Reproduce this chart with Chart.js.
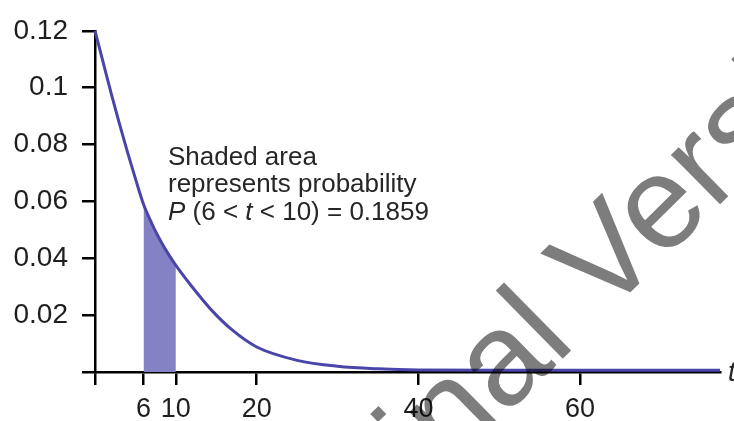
<!DOCTYPE html>
<html><head><meta charset="utf-8">
<script src="https://cdn.jsdelivr.net/npm/chart.js@4/dist/chart.umd.min.js"></script>
<style>html,body{margin:0;padding:0;background:#fff;overflow:hidden}#wrap{width:734px;height:421px;position:relative}</style>
</head><body><div id="wrap"><canvas id="c" width="734" height="421"></canvas></div>
<script>
// ---- data ----
const tValues       = [0, 1, 2, 3, 4, 5, 6, 7, 8, 9, 10, 12, 14.5, 17, 20, 25, 30, 35, 40, 50, 77.3];
const densityValues = [0.1200, 0.1090, 0.0980, 0.0875, 0.0775, 0.0680, 0.0590, 0.0524, 0.0467, 0.0418, 0.0375, 0.0300, 0.0215, 0.0147, 0.0088, 0.0041, 0.0020, 0.0011, 0.0007, 0.0006, 0.0006];
const shadeFrom = 6;
const shadeTo = 10;
const xTickValues = [0, 6, 10, 20, 40, 60];
const xTickLabels = ['', '6', '10', '20', '40', '60'];
const yTickValues = [0, 0.02, 0.04, 0.06, 0.08, 0.1, 0.12];
const yTickLabels = ['', '0.02', '0.04', '0.06', '0.08', '0.1', '0.12'];
const xAxisTitle = 't';
const annotationLines = ['Shaded area', 'represents probability'];
const annotationFormula = [['P', true], [' (6 < ', false], ['t', true], [' < 10) = 0.1859', false]];
const watermarkText = 'Original Version';

const FONT = "'Liberation Sans', Arial, sans-serif";
const curvePoints = tValues.map((t, i) => ({x: t, y: densityValues[i]}));
const shadePoints = curvePoints.filter(p => p.x >= shadeFrom && p.x <= shadeTo);

const overlay = {
  id: 'overlay',
  afterDraw(chart) {
    const ctx = chart.ctx;
    ctx.save();
    ctx.fillStyle = '#262626';
    ctx.textBaseline = 'alphabetic';
    ctx.textAlign = 'left';
    ctx.font = '26px ' + FONT;
    const x0 = 168;
    ctx.fillText(annotationLines[0], x0, 165);
    ctx.fillText(annotationLines[1], x0, 192);
    let x = x0;
    for (const [s, it] of annotationFormula) {
      ctx.font = (it ? 'italic ' : '') + '26px ' + FONT;
      ctx.fillText(s, x, 220);
      x += ctx.measureText(s).width;
    }
    ctx.font = 'italic 27px ' + FONT;
    ctx.fillText(xAxisTitle, 728, 381);
    ctx.restore();

    // watermark
    ctx.save();
    ctx.globalCompositeOperation = 'multiply';
    ctx.fillStyle = 'rgb(125,125,125)';
    ctx.font = '132px ' + FONT;
    ctx.textBaseline = 'alphabetic';
    ctx.textAlign = 'left';
    const pre = ctx.measureText('Original ').width;
    const vHalf = ctx.measureText('V').width / 2;
    ctx.translate(635, 288);
    ctx.rotate(-44.5 * Math.PI / 180);
    ctx.fillText(watermarkText, -(pre + vHalf), 0);
    ctx.restore();
  }
};

new Chart(document.getElementById('c'), {
  type: 'line',
  data: {
    datasets: [
      {
        data: curvePoints, borderColor: '#4a45a8', borderWidth: 3, pointRadius: 0,
        cubicInterpolationMode: 'monotone', fill: false, order: 1, clip: false
      },
      {
        data: shadePoints, borderWidth: 0, borderColor: 'rgba(0,0,0,0)', backgroundColor: '#8581c5',
        pointRadius: 0, cubicInterpolationMode: 'monotone', fill: 'origin', order: 2
      }
    ]
  },
  options: {
    responsive: false, animation: false, devicePixelRatio: 1,
    layout: {padding: {top: 27, right: 14, left: 0, bottom: 0}},
    plugins: {legend: {display: false}, tooltip: {enabled: false}},
    scales: {
      x: {
        type: 'linear', min: 0, max: 77.3,
        afterBuildTicks: s => { s.ticks = xTickValues.map(v => ({value: v})); },
        afterFit: s => { s.height = 49; },
        ticks: {
          autoSkip: false, maxRotation: 0, padding: 8, color: '#1e1e1e',
          font: {family: FONT, size: 27},
          callback: v => { const i = xTickValues.indexOf(v); return i >= 0 ? xTickLabels[i] : ''; }
        },
        grid: {drawOnChartArea: false, drawTicks: true, tickLength: 13, color: '#000', lineWidth: 2.5},
        border: {display: true, color: '#000', width: 2.5}
      },
      y: {
        type: 'linear', min: 0, max: 0.12,
        afterBuildTicks: s => { s.ticks = yTickValues.map(v => ({value: v})); },
        afterFit: s => { s.width = 95; },
        ticks: {
          autoSkip: false, padding: 14, color: '#1e1e1e',
          font: {family: FONT, size: 28},
          callback: v => { const i = yTickValues.findIndex(t => Math.abs(t - v) < 1e-9); return i >= 0 ? yTickLabels[i] : ''; }
        },
        grid: {drawOnChartArea: false, drawTicks: true, tickLength: 13, color: '#000', lineWidth: 2.5},
        border: {display: true, color: '#000', width: 2.5}
      }
    }
  },
  plugins: [overlay]
});
</script></body></html>
